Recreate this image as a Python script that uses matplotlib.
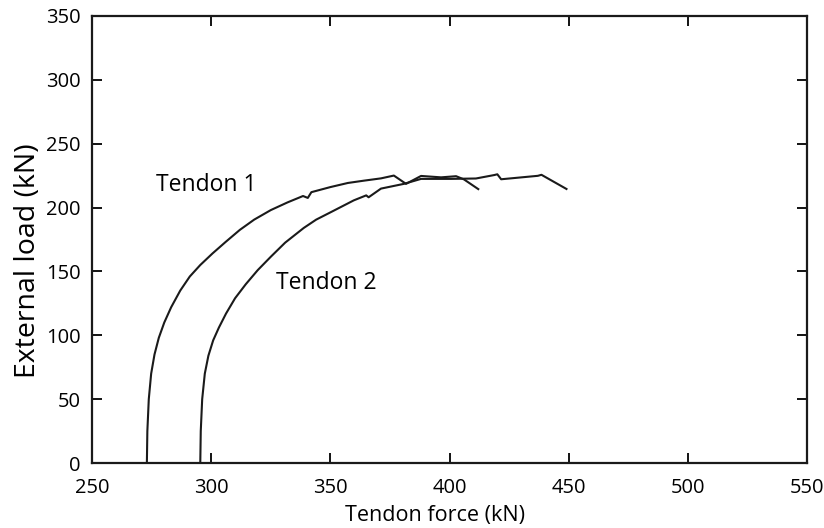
import numpy as np
import matplotlib.pyplot as plt

# tendon force (kN) vs external load (kN)
force_t1 = [273.0, 273.2, 273.8, 274.8, 276.2, 278.0, 280.3, 283.2, 287.0, 291.0,
            295.4, 300.5, 306.0, 312.0, 318.0, 325.0, 332.0, 338.5, 340.5, 342.0,
            350.0, 357.3, 364.0, 371.2, 376.6, 381.7, 388.0, 396.4, 402.7, 406.0,
            412.0]
load_t1 = [0, 25.0, 50.0, 70.0, 85.0, 98.0, 110.0, 122.0, 135.0, 146.0,
           155.0, 164.0, 173.0, 182.5, 190.5, 198.0, 204.0, 209.0, 207.5, 212.0,
           216.0, 219.2, 221.0, 222.8, 225.0, 218.5, 224.7, 223.6, 224.5, 222.0,
           214.4]

force_t2 = [295.4, 295.6, 296.2, 297.3, 298.8, 300.8, 303.2, 306.2, 310.0, 314.5,
            319.5, 325.0, 331.0, 338.8, 344.0, 350.1, 359.8, 365.0, 366.0, 371.2,
            380.8, 388.0, 400.6, 411.0, 418.7, 420.0, 421.6, 437.0, 438.5, 449.0]
load_t2 = [0, 25.0, 50.0, 70.0, 84.0, 96.0, 106.0, 117.0, 129.0, 140.0,
           151.0, 161.5, 172.5, 184.0, 190.5, 196.3, 205.6, 209.5, 208.0, 214.8,
           218.5, 222.4, 222.4, 222.7, 225.4, 226.0, 222.1, 224.8, 225.6, 214.5]

plt.rcParams['font.family'] = ['Open Sans', 'DejaVu Sans']

fig = plt.figure(figsize=(8.24, 5.28), dpi=100)
ax = fig.add_axes([0.1117, 0.123, 0.868, 0.847])

ax.plot(force_t1, load_t1, color='#1a1a1a', lw=1.5)
ax.plot(force_t2, load_t2, color='#1a1a1a', lw=1.5)

ax.text(277, 218, 'Tendon 1', fontsize=16.5, va='center', ha='left')
ax.text(327, 141, 'Tendon 2', fontsize=16.5, va='center', ha='left')

ax.set_xlim(250, 550)
ax.set_ylim(0, 350)
ax.set_xticks(np.arange(250, 551, 50))
ax.set_yticks(np.arange(0, 351, 50))
ax.tick_params(direction='in', length=7, width=1.3, top=True, right=True,
               labelsize=14.5)
ax.tick_params(axis='x', pad=11)
ax.tick_params(axis='y', pad=8)
for s in ax.spines.values():
    s.set_linewidth(1.6)
    s.set_color('#1a1a1a')

ax.set_xlabel('Tendon force (kN)', fontsize=15.5)
ax.set_ylabel('External load (kN)', fontsize=20.5)
ax.xaxis.set_label_coords(0.479, -0.094)
ax.yaxis.set_label_coords(-0.07, 0.452)

fig.savefig('out.png', dpi=100)
